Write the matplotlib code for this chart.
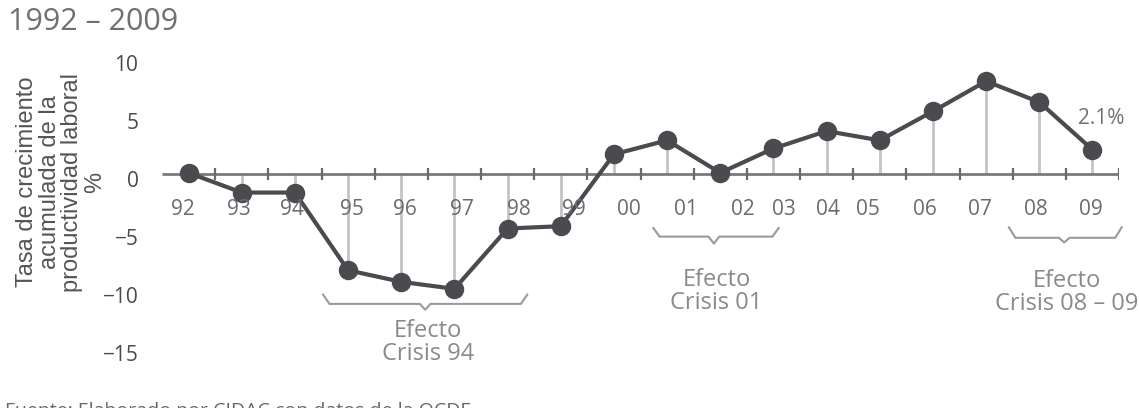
import numpy as np
import matplotlib
matplotlib.use('Agg')
import matplotlib.pyplot as plt
import matplotlib.transforms as mtransforms

    #Data
years  = ['92', '93', '94', '95', '96', '97', '98', '99', '00',
          '01', '02', '03', '04', '05', '06', '07', '08', '09']
values = [0.1, -1.6, -1.6, -8.3, -9.3, -9.9, -4.7, -4.5, 1.7,
          2.9, 0.1, 2.2, 3.7, 2.9, 5.4, 8.0, 6.2, 2.1]
yticks = [-15, -10, -5, 0, 5, 10]
crisis_labels = ['Efecto\nCrisis 94', 'Efecto\nCrisis 01', 'Efecto\nCrisis 08 \u2013 09']

    #Layout tweaks (label offsets, bracket spans in index units)
label_pos = [-0.11, 0.94, 1.94, 3.07, 4.07, 5.14, 6.22, 7.25, 8.29,
             9.35, 10.42, 11.2, 12.02, 12.78, 13.84, 14.89, 15.94, 16.98]
brackets = [(2.53, 6.37, 4.45, -10.4, -11.2, -11.7, -14.5),
            (8.74, 11.10, 9.88, -4.66, -5.4, -6.0, -10.1),
            (15.43, 17.55, 16.47, -4.6, -5.5, -5.9, -10.2)]

FONT = 'Open Sans'
plt.rcParams['font.family'] = [FONT, 'DejaVu Sans']

fig = plt.figure(figsize=(11.39, 4.08), dpi=100)
ax = fig.add_axes([162/1139, 28/408, 957/1139, 330/408])
x = np.arange(len(values))

    #Stems, axis line and ticks
ax.vlines(x, 0, values, color='#c4c4c4', lw=2, zorder=1)
ax.plot([-0.5, 17.5], [0, 0], color='#7a7a7a', lw=2, zorder=2, solid_capstyle='butt')
ax.vlines(np.arange(18) + 0.5, -0.5, 0.5, color='#6a6a6a', lw=1.6, zorder=2)

    #Main series
ax.plot(x, values, color='#4a4a4f', lw=3, marker='o', ms=13, zorder=3)

    #Year labels
for p, lab in zip(label_pos, years):
    ax.text(p, -3.1, lab, ha='center', va='center', fontsize=15, color='#6a6a72')

    #Crisis brackets
for (x0, x1, xm, ytop, ybar, ytip, ytxt), lab in zip(brackets, crisis_labels):
    ax.plot([x0, x0 + 0.12, xm - 0.1, xm, xm + 0.1, x1 - 0.12, x1],
            [ytop, ybar, ybar, ytip, ybar, ybar, ytop],
            color='#9a9a9a', lw=1.5, clip_on=False)
    ax.text(xm + 0.05, ytxt, lab, ha='center', va='center', fontsize=17,
            color='#8a8a8a', linespacing=0.95)

ax.text(17.17, 4.8, '2.1%', ha='center', va='center', fontsize=15, color='#707070')

ax.set_xlim(-0.5, 17.5)
ax.set_ylim(-17.76, 10.69)
ax.set_xticks([])
ax.set_yticks(yticks)
ax.set_yticklabels([str(t).replace('-', '\u2212') for t in yticks], fontsize=15, color='#4a4a4a')
ax.tick_params(axis='y', length=0, pad=17)
shift = mtransforms.ScaledTranslation(0, -5/100, fig.dpi_scale_trans)
for lab in ax.get_yticklabels():
    lab.set_transform(lab.get_transform() + shift)
for s in ax.spines.values():
    s.set_visible(False)
ax.patch.set_alpha(0)

    #Figure texts
fig.text(8/1139, (408-22)/408, '1992 \u2013 2009', fontsize=22, color='#707070',
         ha='left', va='center')
fig.text(61/1139, (408-182)/408,
         'Tasa de crecimiento\nacumulada de la\nproductividad laboral\n%',
         rotation=90, ha='center', va='center', multialignment='center',
         fontsize=17, color='#555555', linespacing=1.05,
         family='Liberation Sans')
fig.text(5/1139, (408-416)/408, 'Fuente: Elaborado por CIDAC con datos de la OCDE',
         fontsize=14, color='#666666', ha='left', va='baseline')

fig.savefig('out.png', dpi=100)
